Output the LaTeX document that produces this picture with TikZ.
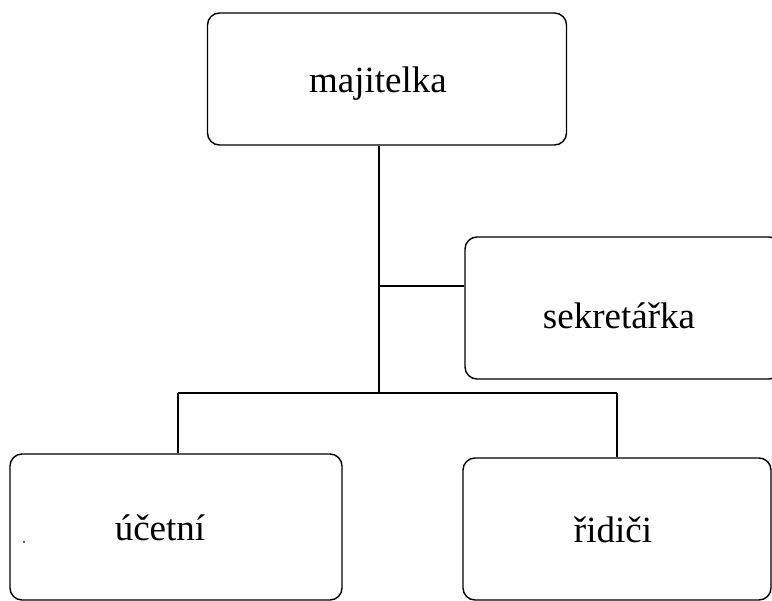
\documentclass[tikz,border=0pt]{standalone}
\usepackage{fontspec}
\setmainfont{Liberation Serif}
\usetikzlibrary{positioning}

\begin{document}
\begin{tikzpicture}[x=1pt,y=-1pt,on grid,
    role/.style={draw,rounded corners=12pt,line width=1.4pt,inner sep=0pt,
      text depth=8pt,font=\fontsize{37}{40}\selectfont},
    link/.style={line width=1.1pt}]
    \useasboundingbox (0,0) rectangle (772,601);
    \clip (0,0) rectangle (772,601);
    \node[role,minimum width=359pt,minimum height=132pt,text height=35pt] (maj) at (387,79) {\hspace*{-18pt}majitelka};
    \node[role,minimum width=316pt,minimum height=142pt,text height=49pt] (sek) [below right=229pt and 236pt of maj] {\hspace*{-8pt}sekretářka};
    \node[role,minimum width=332pt,minimum height=146pt,text height=35pt] (ucet) [below left=448pt and 211pt of maj] {\hspace*{-32pt}účetní};
    \node[role,minimum width=308pt,minimum height=142pt,text height=36pt] (rid) [below right=450pt and 230pt of maj] {\hspace*{-8pt}řidiči};
    \coordinate (trunk) at (379,286);
    \coordinate (bar) at (379,393);
    \coordinate (barL) at (178,393);
    \coordinate (barR) at (617,393);
    \draw[link] (maj.south -| trunk) -- (bar);
    \draw[link] (trunk) -- (trunk -| sek.west);
    \draw[link] (barL) -- (barR);
    \draw[link] (barL) -- (ucet.north -| barL);
    \draw[link] (barR) -- (rid.north -| barR);
    \fill (24,542) circle (1pt);
\end{tikzpicture}
\end{document}
